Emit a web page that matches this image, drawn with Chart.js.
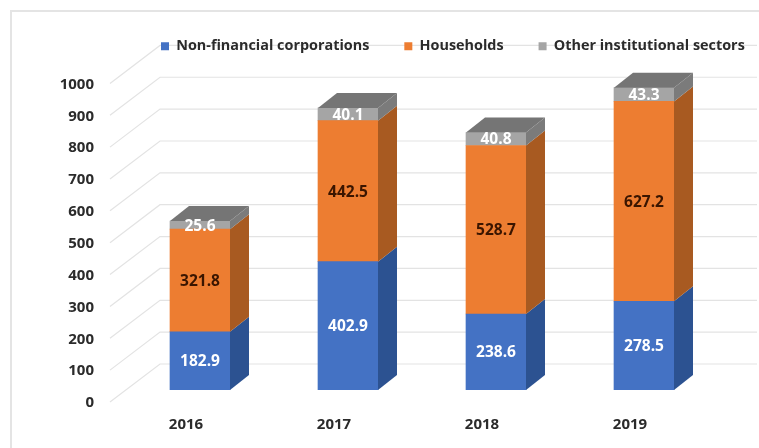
<!DOCTYPE html>
<html>
<head>
<meta charset="utf-8">
<script src="https://cdn.jsdelivr.net/npm/chart.js@4/dist/chart.umd.min.js"></script>
<style>
  html, body { margin: 0; padding: 0; background: #fff; }
  #wrap { position: relative; width: 759px; height: 448px; }
</style>
</head>
<body>
<div id="wrap"><canvas id="chart"></canvas></div>
<script>
const years = ['2016', '2017', '2018', '2019'];
const corporations = [182.9, 402.9, 238.6, 278.5];
const households = [321.8, 442.5, 528.7, 627.2];
const otherSectors = [25.6, 40.1, 40.8, 43.3];
const seriesNames = ['Non-financial corporations', 'Households', 'Other institutional sectors'];

const fontFamily = '"Open Sans", sans-serif';
const textColor = '#2b2b2b';

// depth of the fake 3d look
const barDepthX = 19;
const barDepthY = 15;
const wallDepthX = 50;
const wallRise = 26;
const floorDrop = 12;

const sideColors = ['#2c5291', '#a85a21', '#7b7b7b'];
const topColor = '#757575';
const valueColors = ['#ffffff', '#3a1500', '#ffffff'];

function polygon(ctx, pts, color) {
  ctx.fillStyle = color;
  ctx.beginPath();
  ctx.moveTo(pts[0][0], pts[0][1]);
  for (let i = 1; i < pts.length; i++) {
    ctx.lineTo(pts[i][0], pts[i][1]);
  }
  ctx.closePath();
  ctx.fill();
}

const wallGrid = {
  id: 'wallGrid',
  afterLayout(chart) {
    // legend sits above the plot but is wider than it, refit and move it
    const legend = chart.legend;
    legend.maxWidth = 740;
    legend.fit();
    legend.left = chart.chartArea.left;
    legend.right = legend.left + legend.width;
    legend.top = 4;
  },
  beforeDraw(chart) {
    const ctx = chart.ctx;
    const y = chart.scales.y;
    ctx.save();
    // thin frame of the original picture
    ctx.strokeStyle = '#e4e4e4';
    ctx.lineWidth = 2;
    ctx.beginPath();
    ctx.moveTo(11, 448);
    ctx.lineTo(11, 11);
    ctx.lineTo(759, 11);
    ctx.stroke();

    ctx.strokeStyle = '#e3e3e3';
    ctx.lineWidth = 1.2;
    y.ticks.forEach(tick => {
      const py = y.getPixelForValue(tick.value);
      ctx.beginPath();
      ctx.moveTo(110, py + floorDrop);
      ctx.lineTo(110 + wallDepthX, py - wallRise);
      ctx.lineTo(757, py - wallRise);
      ctx.stroke();
    });
    ctx.restore();
  }
};

const bars3d = {
  id: 'bars3d',
  afterDatasetsDraw(chart) {
    const ctx = chart.ctx;
    const last = chart.data.datasets.length - 1;
    ctx.save();
    chart.data.datasets.forEach((ds, d) => {
      chart.getDatasetMeta(d).data.forEach(bar => {
        const right = bar.x + bar.width / 2;
        const left = bar.x - bar.width / 2;
        polygon(ctx, [[right, bar.y], [right + barDepthX, bar.y - barDepthY],
          [right + barDepthX, bar.base - barDepthY], [right, bar.base]], sideColors[d]);
        if (d === last) {
          polygon(ctx, [[left, bar.y], [left + barDepthX, bar.y - barDepthY],
            [right + barDepthX, bar.y - barDepthY], [right, bar.y]], topColor);
        }
      });
    });
    // values on top of the bars
    ctx.font = 'bold 15.5px ' + fontFamily;
    ctx.textAlign = 'center';
    ctx.textBaseline = 'middle';
    chart.data.datasets.forEach((ds, d) => {
      ctx.fillStyle = valueColors[d];
      chart.getDatasetMeta(d).data.forEach((bar, i) => {
        ctx.fillText(ds.data[i].toFixed(1), bar.x, (bar.y + bar.base) / 2 + 1);
      });
    });
    ctx.restore();
  }
};

new Chart(document.getElementById('chart'), {
  type: 'bar',
  data: {
    labels: years,
    datasets: [
      { label: seriesNames[0], data: corporations, backgroundColor: '#4472c4' },
      { label: seriesNames[1], data: households, backgroundColor: '#ed7d31' },
      { label: seriesNames[2], data: otherSectors, backgroundColor: '#a5a5a5' }
    ]
  },
  options: {
    responsive: true,
    maintainAspectRatio: false,
    animation: false,
    layout: { padding: { top: 12, right: 41, bottom: 0, left: 0 } },
    datasets: { bar: { barThickness: 60 } },
    scales: {
      x: {
        stacked: true,
        grid: { display: false, drawTicks: false },
        border: { display: false },
        afterFit(scale) { scale.height = 58; },
        ticks: {
          color: textColor,
          font: { family: fontFamily, size: 15, weight: 'bold' },
          labelOffset: -14,
          padding: 26,
          maxRotation: 0
        }
      },
      y: {
        stacked: true,
        min: 0,
        max: 1000,
        grid: { display: false, drawTicks: false },
        border: { display: false },
        afterFit(scale) { scale.width = 126; },
        ticks: {
          stepSize: 100,
          color: textColor,
          font: { family: fontFamily, size: 15, weight: 'bold' },
          labelOffset: 13,
          padding: 32,
          callback: value => String(value)
        }
      }
    },
    plugins: {
      legend: {
        position: 'top',
        align: 'start',
        labels: {
          boxWidth: 8,
          boxHeight: 8,
          padding: 35,
          color: textColor,
          font: { family: fontFamily, size: 14.4, weight: 'bold' }
        }
      },
      tooltip: { enabled: false }
    }
  },
  plugins: [wallGrid, bars3d]
});
</script>
</body>
</html>
